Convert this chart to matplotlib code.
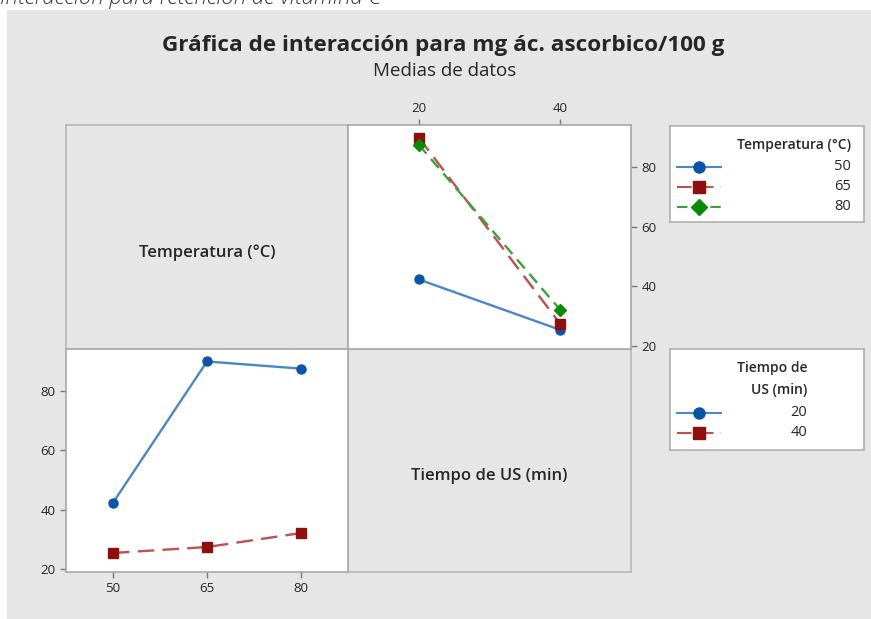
import matplotlib
matplotlib.use("Agg")
import matplotlib.pyplot as plt
from matplotlib.lines import Line2D

plt.rcParams['font.family'] = ['Open Sans', 'DejaVu Sans']

# data
temps = [50, 65, 80]                 # Temperatura (°C)
times = [20, 40]                     # Tiempo de US (min)
mean_us20 = [42.3, 89.8, 87.4]       # means at US 20 min, per temperature
mean_us40 = [25.4, 27.4, 32.1]       # means at US 40 min, per temperature
temp_labels = ['50', '65', '80']
time_labels = ['20', '40']
yticks = [20, 40, 60, 80]

title = 'Gráfica de interacción para mg ác. ascorbico/100 g'
subtitle = 'Medias de datos'
caption = 'Interacción para retención de vitamina C'

bg = '#e6e6e6'
edge = '#a8a8a8'
txt = '#262626'
temp_styles = [
    dict(color='#4a86c8', mfc='#0b55a8', mec='#0b55a8', marker='o', ls='-', dashes=()),
    dict(color='#c0504d', mfc='#8f0f0f', mec='#8f0f0f', marker='s', ls='--', dashes=(7, 3.5)),
    dict(color='#3aa23a', mfc='#0a8a0a', mec='#0a8a0a', marker='D', ls='--', dashes=(5, 3)),
]
time_styles = temp_styles[:2]

W, H = 871, 619
fig = plt.figure(figsize=(W / 100, H / 100), dpi=100, facecolor='white')


def fx(px):
    return px / W


def fy(py):
    return 1 - py / H


# gray chart background
bgax = fig.add_axes([fx(7), 0, 1 - fx(7), fy(10)])
bgax.set_facecolor(bg)
bgax.set_xticks([])
bgax.set_yticks([])
for s in bgax.spines.values():
    s.set_visible(False)

# caption of the source document, cut off at the top edge as in the original
fig.text(0.0, fy(4), caption, fontsize=16, style='italic', color='#333333',
         va='baseline', ha='left', fontweight='light')

fig.text(fx(443), fy(45), title, fontsize=16.2, fontweight='bold', color=txt,
         ha='center', va='center')
fig.text(fx(445), fy(71), subtitle, fontsize=13.5, fontweight='medium', color=txt,
         ha='center', va='center')

x0, x1, x2 = 66, 348, 631
y0, y1, y2 = 125, 349, 572
ylim = (19, 94)


def panel(left, top, right, bottom):
    return fig.add_axes([fx(left), fy(bottom), fx(right - left), fy(top) - fy(bottom)])


def style_axis(ax):
    for s in ax.spines.values():
        s.set_color(edge)
        s.set_linewidth(1.2)
    ax.tick_params(colors='#777777', labelcolor=txt, labelsize=9.5, length=4, width=1)


# diagonal label panels
for (l, t, r, b), lab in [((x0, y0, x1, y1), 'Temperatura (°C)'),
                          ((x1, y1, x2, y2), 'Tiempo de US (min)')]:
    ax = panel(l, t, r, b)
    ax.set_facecolor(bg)
    ax.set_xticks([])
    ax.set_yticks([])
    for s in ax.spines.values():
        s.set_color('#b8b8b8')
        s.set_linewidth(1.2)
    ax.text(0.5, 0.43, lab, transform=ax.transAxes, fontsize=12, fontweight='semibold',
            color=txt, ha='center', va='center')

# top-right: x = time, one line per temperature
ax_tr = panel(x1, y0, x2, y1)
for i, st in enumerate(temp_styles):
    ax_tr.plot(times, [mean_us20[i], mean_us40[i]], color=st['color'], ls=st['ls'],
               dashes=st['dashes'], lw=1.7, marker=st['marker'], ms=6.5,
               mfc=st['mfc'], mec=st['mec'], zorder=3 + i)
ax_tr.set_xlim(10, 50)
ax_tr.set_ylim(*ylim)
ax_tr.set_xticks(times)
ax_tr.set_xticklabels(time_labels)
ax_tr.set_yticks(yticks)
ax_tr.xaxis.tick_top()
ax_tr.yaxis.tick_right()
style_axis(ax_tr)

# bottom-left: x = temperature, one line per time
ax_bl = panel(x0, y1, x1, y2)
for vals, st in zip([mean_us20, mean_us40], time_styles):
    ax_bl.plot(temps, vals, color=st['color'], ls=st['ls'], dashes=st['dashes'],
               lw=1.7, marker=st['marker'], ms=6.5, mfc=st['mfc'], mec=st['mec'])
ax_bl.set_xlim(42.5, 87.5)
ax_bl.set_ylim(*ylim)
ax_bl.set_xticks(temps)
ax_bl.set_xticklabels(temp_labels)
ax_bl.set_yticks(yticks)
style_axis(ax_bl)


def legend_box(left, top, right, bottom, title_lines, title_rows, labels, styles,
               row_y, text_x):
    ax = panel(left, top, right, bottom)
    ax.set_xlim(left, right)
    ax.set_ylim(bottom, top)
    ax.set_xticks([])
    ax.set_yticks([])
    ax.set_facecolor('white')
    for s in ax.spines.values():
        s.set_color('#b0b0b0')
        s.set_linewidth(1.2)
    for line, yy in zip(title_lines, title_rows):
        ax.text(text_x, yy, line, fontsize=10, fontweight='semibold', color=txt,
                ha='right', va='center')
    for lab, st, yy in zip(labels, styles, row_y):
        ax.add_line(Line2D([677, 721], [yy, yy], color=st['color'], ls=st['ls'],
                           dashes=st['dashes'], lw=1.5))
        ax.plot([699], [yy], marker=st['marker'], ms=8, mfc=st['mfc'], mec=st['mec'])
        ax.text(text_x, yy, lab, fontsize=10.5, color=txt, ha='right', va='center')


legend_box(670, 126, 864, 222, ['Temperatura (°C)'], [145],
           temp_labels, temp_styles, [167, 187, 207], 851)
legend_box(670, 349, 864, 450, ['Tiempo de', 'US (min)'], [368, 390],
           time_labels, time_styles, [413, 433], 807)

fig.savefig('out.png', dpi=100, facecolor='white')
